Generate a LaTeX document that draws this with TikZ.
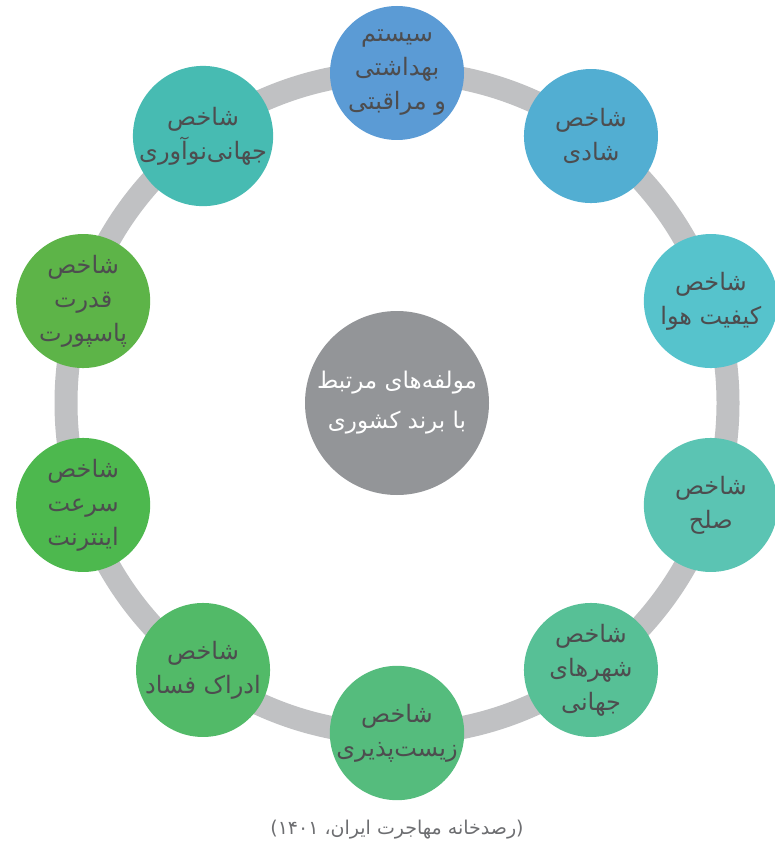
\documentclass[tikz,border=0pt]{standalone}
\usepackage{fontspec}
\usetikzlibrary{calc}
\newfontfamily\arabicfont[Script=Arabic]{DejaVu Sans}
\TeXXeTstate=1
\newcommand{\fa}[1]{\beginR#1\endR}
\definecolor{ringgray}{HTML}{C0C1C3}
\definecolor{txtgray}{HTML}{4D4D4F}
\definecolor{hubgray}{HTML}{939598}
\definecolor{srcgray}{HTML}{6D6E71}
\definecolor{c0}{HTML}{5B9BD5}
\definecolor{c1}{HTML}{52AED2}
\definecolor{c2}{HTML}{56C3CC}
\definecolor{c3}{HTML}{5BC4B3}
\definecolor{c4}{HTML}{57C096}
\definecolor{c5}{HTML}{55BC7D}
\definecolor{c6}{HTML}{52BA68}
\definecolor{c7}{HTML}{4DB84E}
\definecolor{c8}{HTML}{5DB448}
\definecolor{c9}{HTML}{47BBB2}
\begin{document}
\begin{tikzpicture}[
        x=1pt,y=-1pt,
        nsty/.style={
            circle,inner sep=0pt,
            minimum size=134pt,
            text=txtgray,align=center,
            font=\arabicfont\fontsize{24}{34}\selectfont,
        },
        hsty/.style={
            circle,inner sep=0pt,fill=hubgray,
            minimum size=184pt,
            text=white,align=center,
            font=\arabicfont\fontsize{23}{40}\selectfont,
        },
    ]
    \useasboundingbox (0,0) rectangle (775,850);
    \coordinate (o) at (397,403);
    \draw[ringgray,line width=23pt] (o) circle (331);

    \foreach \n/\ang/\txt in {
        0/90/{\fa{سیستم}\\\fa{بهداشتی}\\\fa{و مراقبتی}},
        1/54/{\fa{شاخص}\\\fa{شادی}},
        2/18/{\fa{شاخص}\\\fa{کیفیت هوا}},
        3/-18/{\fa{شاخص}\\\fa{صلح}},
        4/-54/{\fa{شاخص}\\\fa{شهرهای}\\\fa{جهانی}},
        5/-90/{\fa{شاخص}\\\fa{زیست‌پذیری}},
        6/-126/{\fa{شاخص}\\\fa{ادراک فساد}},
        7/-162/{\fa{شاخص}\\\fa{سرعت}\\\fa{اینترنت}},
        8/162/{\fa{شاخص}\\\fa{قدرت}\\\fa{پاسپورت}},
        9/126/{\fa{شاخص}\\\fa{جهانی‌نوآوری}}}{
        \node[nsty,fill=c\n] (k\n) at ($(o)+({330*cos(\ang)},{-330*sin(\ang)})$) {\txt};
    }

    \node[hsty] (hub) at (o) {\fa{مولفه‌های مرتبط}\\\fa{با برند کشوری}};
    \node[text=srcgray,font=\arabicfont\fontsize{19}{22}\selectfont] (src) at (397,830) {\fa{(رصدخانه مهاجرت ایران، ۱۴۰۱)}};
\end{tikzpicture}
\end{document}
